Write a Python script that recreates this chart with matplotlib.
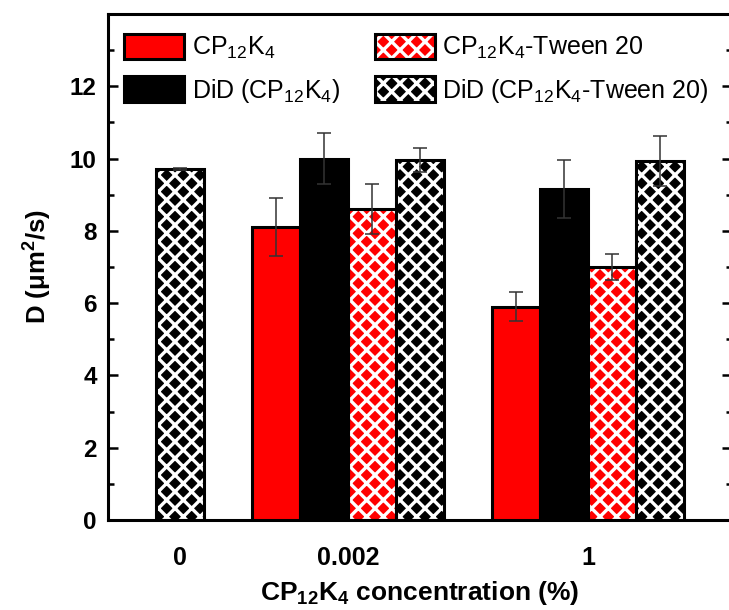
import numpy as np
import matplotlib
matplotlib.use('Agg')
import matplotlib.pyplot as plt
from matplotlib.legend_handler import HandlerTuple

plt.rcParams['font.family'] = ['Liberation Sans', 'DejaVu Sans']
plt.rcParams['hatch.linewidth'] = 2.4
plt.rcParams['mathtext.fontset'] = 'custom'
plt.rcParams['mathtext.rm'] = 'Liberation Sans'

# data
groups = ['0', '0.002', '1']
group_x = [1.5, 5.0, 10.0]
cp = [np.nan, 8.1, 5.9]
cp_err = [np.nan, 0.8, 0.4]
did_cp = [np.nan, 10.0, 9.15]
did_cp_err = [np.nan, 0.7, 0.8]
cp_tw = [np.nan, 8.6, 7.0]
cp_tw_err = [np.nan, 0.7, 0.37]
did_tw = [9.72, 9.95, 9.93]
did_tw_err = [0.03, 0.33, 0.7]

labels = [r'CP$_\mathregular{12}$K$_\mathregular{4}$',
          r'DiD (CP$_\mathregular{12}$K$_\mathregular{4}$)',
          r'CP$_\mathregular{12}$K$_\mathregular{4}$-Tween 20',
          r'DiD (CP$_\mathregular{12}$K$_\mathregular{4}$-Tween 20)']
series = [(cp, cp_err, 'red', False),
          (did_cp, did_cp_err, 'black', False),
          (cp_tw, cp_tw_err, 'red', True),
          (did_tw, did_tw_err, 'black', True)]

fig = plt.figure(figsize=(7.29, 6.10), dpi=100)
ax = fig.add_axes([0.148, 0.1475, 1.004 - 0.148, 0.977 - 0.1475])

w = 1.0
handles = []
for si, (vals, errs, col, hatched) in enumerate(series):
    xs, ys, es = [], [], []
    for gi in range(len(groups)):
        if np.isnan(vals[gi]):
            continue
        present = [k for k in range(4) if not np.isnan(series[k][0][gi])]
        n = len(present)
        off = (present.index(si) - (n - 1) / 2) * w
        xs.append(group_x[gi] + off)
        ys.append(vals[gi])
        es.append(errs[gi])
    if hatched:
        b1 = ax.bar(xs, ys, w, color=col, edgecolor='white', hatch='xx', linewidth=0, zorder=2)
        b2 = ax.bar(xs, ys, w, facecolor='none', edgecolor='black', linewidth=2.2, zorder=3)
        handles.append((b1[0], b2[0]))
    else:
        b = ax.bar(xs, ys, w, color=col, edgecolor='black', linewidth=2.2, zorder=3)
        handles.append(b[0])
    ax.errorbar(xs, ys, yerr=es, fmt='none', ecolor='#333333', elinewidth=1.1,
                capsize=5, capthick=1.1, zorder=4)

ax.set_xlim(0, 13)
ax.set_ylim(0, 14)
ax.set_xticks(group_x)
ax.set_xticklabels(groups, fontsize=18, fontweight='bold')
ax.set_yticks(range(0, 13, 2))
ax.set_yticks(range(1, 14, 2), minor=True)
ax.tick_params(axis='y', which='both', direction='in', right=True, width=1.8,
               labelsize=17.5, pad=8)
ax.tick_params(axis='y', which='major', length=7)
ax.tick_params(axis='y', which='minor', length=4)
ax.tick_params(axis='x', length=0, pad=19)
for t in ax.get_yticklabels():
    t.set_fontweight('bold')
for s in ax.spines.values():
    s.set_linewidth(2.2)

ax.set_ylabel(r'D ($\mathregular{\mu}$m$^\mathregular{2}$/s)', fontsize=18.5, fontweight='bold', labelpad=12)
ax.set_xlabel(r'CP$_\mathregular{12}$K$_\mathregular{4}$ concentration (%)', fontsize=19,
              fontweight='bold', labelpad=6)

ax.legend(handles, labels, ncol=2, loc='upper left', bbox_to_anchor=(0.0, 0.993),
          frameon=False, fontsize=18, handlelength=2.4, handleheight=1.2,
          labelspacing=0.6, columnspacing=1.4, handletextpad=0.3, borderaxespad=0.35,
          borderpad=0.3, handler_map={tuple: HandlerTuple(ndivide=1)})

fig.savefig('out.png', dpi=100)
